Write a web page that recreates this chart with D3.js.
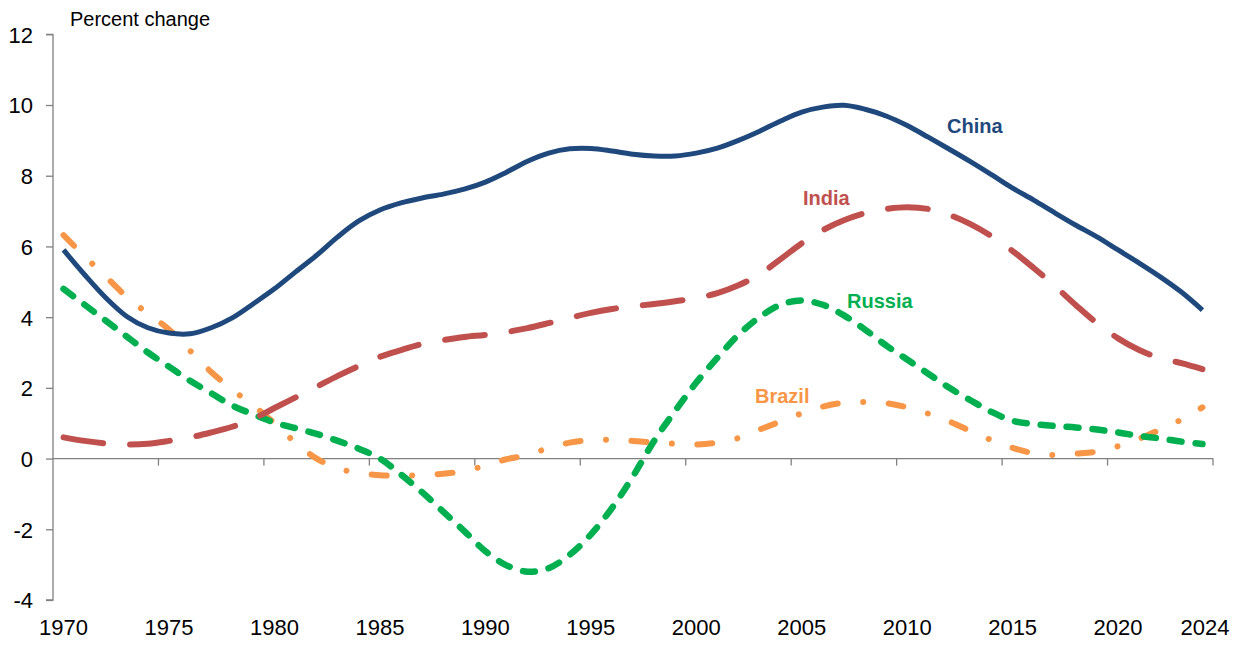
<!DOCTYPE html>
<html>
<head>
<meta charset="utf-8">
<script src="https://cdnjs.cloudflare.com/ajax/libs/d3/7.8.5/d3.min.js"></script>
<style>
  body { margin: 0; background: #fff; }
  svg { display: block; font-family: "Liberation Sans", Arial, sans-serif; }
</style>
</head>
<body>
<div id="chart"></div>
<script>
// data, 1970-2024
var years = d3.range(1970, 2025);
var china = [5.9, 5.2, 4.55, 4.02, 3.7, 3.55, 3.53, 3.7, 3.98, 4.38,
  4.8, 5.28, 5.75, 6.27, 6.72, 7.03, 7.23, 7.37, 7.48, 7.62,
  7.82, 8.1, 8.41, 8.64, 8.76, 8.77, 8.7, 8.61, 8.56, 8.56,
  8.64, 8.78, 9.0, 9.26, 9.55, 9.8, 9.94, 9.99, 9.88, 9.69,
  9.42, 9.09, 8.75, 8.4, 8.03, 7.65, 7.31, 6.95, 6.6, 6.27,
  5.9, 5.53, 5.14, 4.71, 4.2];
var india = [0.6, 0.5, 0.43, 0.4, 0.42, 0.5, 0.6, 0.74, 0.9, 1.12,
  1.43, 1.73, 2.03, 2.34, 2.62, 2.88, 3.07, 3.24, 3.35, 3.44,
  3.5, 3.58, 3.69, 3.83, 3.98, 4.12, 4.23, 4.31, 4.37, 4.45,
  4.54, 4.68, 4.9, 5.21, 5.64, 6.09, 6.46, 6.74, 6.94, 7.06,
  7.11, 7.06, 6.89, 6.63, 6.29, 5.87, 5.39, 4.88, 4.34, 3.83,
  3.4, 3.07, 2.84, 2.7, 2.53];
var russia = [4.8, 4.35, 3.9, 3.45, 3.0, 2.6, 2.2, 1.85, 1.5, 1.25,
  1.02, 0.86, 0.7, 0.5, 0.28, 0.0, -0.45, -0.95, -1.5, -2.05,
  -2.62, -3.02, -3.2, -3.1, -2.72, -2.15, -1.4, -0.5, 0.5, 1.35,
  2.15, 2.85, 3.5, 4.0, 4.35, 4.47, 4.35, 4.05, 3.65, 3.2,
  2.8, 2.4, 2.0, 1.65, 1.32, 1.07, 0.98, 0.92, 0.88, 0.82,
  0.74, 0.64, 0.57, 0.48, 0.41];
var brazil = [6.32, 5.72, 5.15, 4.57, 4.1, 3.65, 3.05, 2.45, 1.95, 1.5,
  1.0, 0.45, 0.0, -0.28, -0.4, -0.47, -0.49, -0.46, -0.43, -0.35,
  -0.2, -0.02, 0.1, 0.3, 0.45, 0.52, 0.53, 0.5, 0.45, 0.42,
  0.4, 0.45, 0.58, 0.82, 1.05, 1.28, 1.47, 1.58, 1.6, 1.57,
  1.45, 1.27, 1.05, 0.78, 0.52, 0.3, 0.15, 0.1, 0.14, 0.2,
  0.35, 0.56, 0.82, 1.1, 1.45];
var yTicks = [-4, -2, 0, 2, 4, 6, 8, 10, 12];
var xLabels = [1970, 1975, 1980, 1985, 1990, 1995, 2000, 2005, 2010, 2015, 2020, 2024];
var xTickYears = [1975, 1980, 1985, 1990, 1995, 2000, 2005, 2010, 2015, 2020];

var width = 1233, height = 646;
var margin = {top: 34.3, right: 20, bottom: 46, left: 53};

var series = [
  {name: 'China', values: china, color: '#1f497d', width: 5, dash: null, lx: 947, ly: 133},
  {name: 'India', values: india, color: '#c0504d', width: 6, dash: '40 27', lx: 803, ly: 205},
  {name: 'Russia', values: russia, color: '#00b050', width: 6.5, dash: '12 14', lx: 847, ly: 308},
  {name: 'Brazil', values: brazil, color: '#f79646', width: 6, dash: '15 25.5 0.01 25.5', lx: 755, ly: 403}
];

var svg = d3.select('#chart').append('svg')
  .attr('width', width)
  .attr('height', height);

var x = d3.scaleBand()
  .domain(years)
  .range([margin.left, 1213])
  .paddingInner(0).paddingOuter(0);

var y = d3.scaleLinear()
  .domain([-4, 12])
  .range([600, margin.top]);

var cx = function(yr){ return x(yr) + x.bandwidth()/2; };

// y axis (plain hyphen for negatives, like the original)
var yAxis = d3.axisLeft(y).tickValues(yTicks).tickSize(7).tickPadding(13)
  .tickFormat(function(d){ return String(d); });
var gy = svg.append('g')
  .attr('transform', 'translate(' + margin.left + ',0)')
  .call(yAxis);
gy.select('.domain').attr('stroke', '#808080').attr('stroke-width', 1.3).attr('d', 'M-7,' + y(12) + 'H0V' + y(-4) + 'H-7');
gy.selectAll('.tick line').attr('stroke', '#808080').attr('stroke-width', 1.3);
gy.selectAll('.tick text').attr('font-size', '22px').attr('fill', '#000').attr('dy', '0.36em')
  .attr('font-family', '"Liberation Sans", Arial, sans-serif');

// x axis on the zero line
svg.append('line')
  .attr('x1', margin.left).attr('x2', 1213)
  .attr('y1', y(0)).attr('y2', y(0))
  .attr('stroke', '#808080').attr('stroke-width', 1.3);

svg.append('g').selectAll('line')
  .data(xTickYears.concat(['end']))
  .enter().append('line')
    .attr('x1', function(d){ return d === 'end' ? 1213 : x(d); })
    .attr('x2', function(d){ return d === 'end' ? 1213 : x(d); })
    .attr('y1', y(0)).attr('y2', y(0) + 7)
    .attr('stroke', '#808080').attr('stroke-width', 1.3);

svg.append('g').selectAll('text')
  .data(xLabels)
  .enter().append('text')
    .attr('x', function(d){ return d === 2024 ? 1205 : cx(d); })
    .attr('y', 635)
    .attr('text-anchor', 'middle')
    .attr('font-size', '22px')
    .attr('fill', '#000')
    .text(function(d){ return d; });

// axis title
svg.append('text')
  .attr('x', 70).attr('y', 26)
  .attr('font-size', '20px')
  .attr('fill', '#000')
  .text('Percent change');

var line = d3.line()
  .x(function(d, i){ return cx(years[i]); })
  .y(function(d){ return y(d); })
  .curve(d3.curveCatmullRom.alpha(0.5));

// Brazil at the bottom, China on top
var order = [3, 2, 1, 0];
order.forEach(function(k){
  var s = series[k];
  svg.append('path')
    .datum(s.values)
    .attr('d', line)
    .attr('fill', 'none')
    .attr('stroke', s.color)
    .attr('stroke-width', s.width)
    .attr('stroke-linecap', s.dash ? 'round' : 'butt')
    .attr('stroke-linejoin', 'round')
    .attr('stroke-dasharray', s.dash);
});

svg.append('g').selectAll('text')
  .data(series)
  .enter().append('text')
    .attr('x', function(d){ return d.lx; })
    .attr('y', function(d){ return d.ly; })
    .attr('font-size', '20px')
    .attr('font-weight', 'bold')
    .attr('fill', function(d){ return d.color; })
    .text(function(d){ return d.name; });
</script>
</body>
</html>
